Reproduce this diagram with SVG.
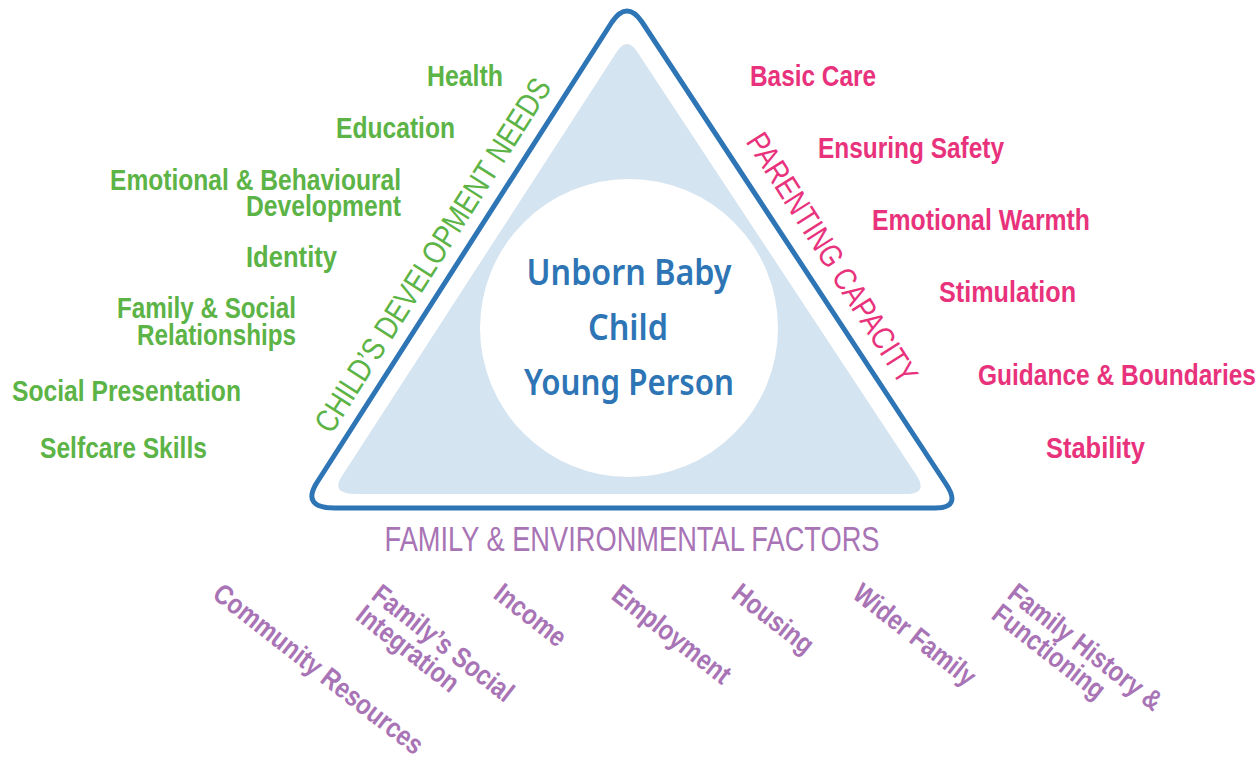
<svg xmlns="http://www.w3.org/2000/svg" width="1258" height="758" viewBox="0 0 1258 758">
<style>
text{font-family:"Liberation Sans",Arial,sans-serif}
.g{fill:#5cb346;font-weight:bold;font-size:29px;text-anchor:end}
.p{fill:#e8337c;font-weight:bold;font-size:29px}
.v{fill:#a874b5;font-weight:bold;font-size:28px}
.side{font-size:32px;text-anchor:middle}
.c{fill:#2e75b6;font-family:"Noto Sans",sans-serif;font-weight:600;font-size:36px;text-anchor:middle}
</style>
<rect width="1258" height="758" fill="#fff"/>
<g id="triangle">
<path d="M612,22 Q627,0 642,22 L946,484 Q962,508 935,508 L335,508 Q302,508 316,484 Z" fill="#fff" stroke="#2e75b6" stroke-width="5" stroke-linejoin="round"/>
<path d="M616,53 Q627,35 638,53 L917,476 Q928,494 906,494 L356,494 Q330,494 342,476 Z" fill="#d5e4f1"/>
<circle cx="629" cy="328" r="149" fill="#fff"/>
</g>
<g id="center">
<text class="c" x="629" y="285" textLength="205" lengthAdjust="spacingAndGlyphs">Unborn Baby</text>
<text class="c" x="628" y="340" textLength="80" lengthAdjust="spacingAndGlyphs">Child</text>
<text class="c" x="629" y="395" textLength="210" lengthAdjust="spacingAndGlyphs">Young Person</text>
</g>
<g id="side-labels">
<text class="side" fill="#5cb346" transform="translate(442,261) rotate(-57.6)" textLength="412" lengthAdjust="spacingAndGlyphs">CHILD’S DEVELOPMENT NEEDS</text>
<text class="side" fill="#e8337c" transform="translate(823,264) rotate(57.6)" textLength="290" lengthAdjust="spacingAndGlyphs">PARENTING CAPACITY</text>
<text class="side" fill="#a874b5" x="632" y="551" style="font-size:35px" textLength="495" lengthAdjust="spacingAndGlyphs">FAMILY &amp; ENVIRONMENTAL FACTORS</text>
</g>
<g id="child-needs">
<text class="g" x="503" y="86" textLength="76" lengthAdjust="spacingAndGlyphs">Health</text>
<text class="g" x="455" y="138" textLength="119" lengthAdjust="spacingAndGlyphs">Education</text>
<text class="g" x="401" y="190" textLength="291" lengthAdjust="spacingAndGlyphs">Emotional &amp; Behavioural</text>
<text class="g" x="401" y="216" textLength="155" lengthAdjust="spacingAndGlyphs">Development</text>
<text class="g" x="337" y="267" textLength="91" lengthAdjust="spacingAndGlyphs">Identity</text>
<text class="g" x="296" y="318" textLength="179" lengthAdjust="spacingAndGlyphs">Family &amp; Social</text>
<text class="g" x="296" y="345" textLength="159" lengthAdjust="spacingAndGlyphs">Relationships</text>
<text class="g" x="241" y="401" textLength="229" lengthAdjust="spacingAndGlyphs">Social Presentation</text>
<text class="g" x="207" y="458" textLength="167" lengthAdjust="spacingAndGlyphs">Selfcare Skills</text>
</g>
<g id="parenting">
<text class="p" x="750" y="86" textLength="126" lengthAdjust="spacingAndGlyphs">Basic Care</text>
<text class="p" x="818" y="158" textLength="186" lengthAdjust="spacingAndGlyphs">Ensuring Safety</text>
<text class="p" x="872" y="230" textLength="218" lengthAdjust="spacingAndGlyphs">Emotional Warmth</text>
<text class="p" x="939" y="302" textLength="137" lengthAdjust="spacingAndGlyphs">Stimulation</text>
<text class="p" x="978" y="385" textLength="278" lengthAdjust="spacingAndGlyphs">Guidance &amp; Boundaries</text>
<text class="p" x="1046" y="458" textLength="99" lengthAdjust="spacingAndGlyphs">Stability</text>
</g>
<g id="family-factors">
<text class="v" transform="translate(211,597) rotate(38)" textLength="258" lengthAdjust="spacingAndGlyphs">Community Resources</text>
<g transform="translate(370,598) rotate(38)">
<text class="v" x="0" y="0" textLength="171" lengthAdjust="spacingAndGlyphs">Family’s Social</text>
<text class="v" x="0" y="26" textLength="122" lengthAdjust="spacingAndGlyphs">Integration</text>
</g>
<text class="v" transform="translate(492,597) rotate(38)" textLength="83" lengthAdjust="spacingAndGlyphs">Income</text>
<text class="v" transform="translate(610,598) rotate(38)" textLength="142" lengthAdjust="spacingAndGlyphs">Employment</text>
<text class="v" transform="translate(730,597) rotate(38)" textLength="95" lengthAdjust="spacingAndGlyphs">Housing</text>
<text class="v" transform="translate(851,597) rotate(38)" textLength="147" lengthAdjust="spacingAndGlyphs">Wider Family</text>
<g transform="translate(1006,597) rotate(38)">
<text class="v" x="0" y="0" textLength="187" lengthAdjust="spacingAndGlyphs">Family History &amp;</text>
<text class="v" x="0" y="26" textLength="135" lengthAdjust="spacingAndGlyphs">Functioning</text>
</g>
</g>
</svg>
